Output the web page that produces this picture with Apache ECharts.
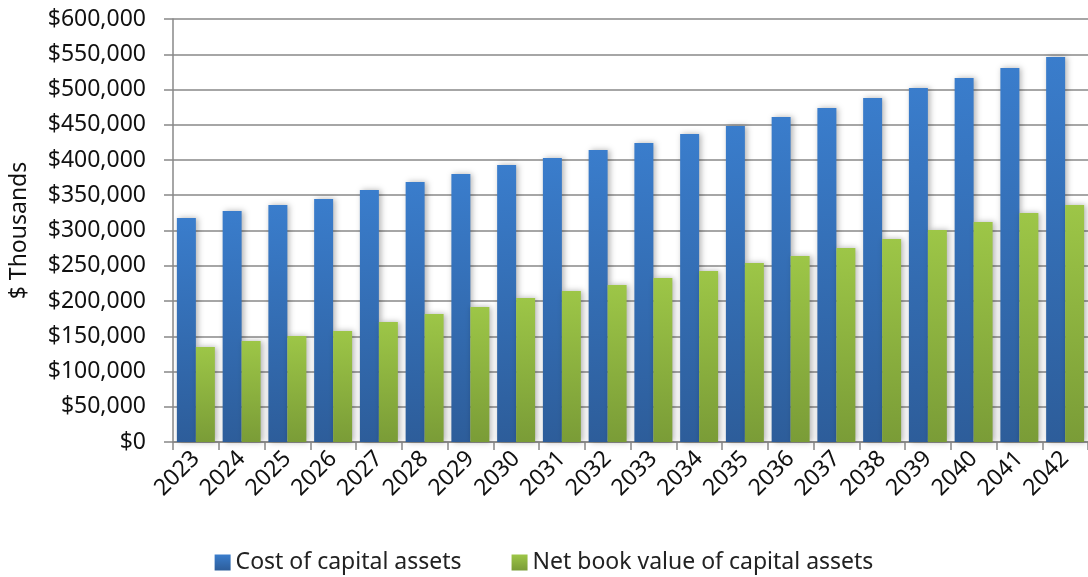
<!DOCTYPE html>
<html>
<head>
<meta charset="utf-8">
<script src="https://cdn.jsdelivr.net/npm/echarts@6/dist/echarts.min.js"></script>
<style>
  html, body { margin: 0; padding: 0; background: #fff; }
  #chart { width: 1088px; height: 577px; }
</style>
</head>
<body>
<div id="chart"></div>
<script>
const years = ['2023','2024','2025','2026','2027','2028','2029','2030','2031','2032',
               '2033','2034','2035','2036','2037','2038','2039','2040','2041','2042'];
const costValues = [317700, 327700, 336200, 344700, 357400, 368800, 380100, 392900, 402800, 414200,
                    424100, 436900, 448200, 461000, 473700, 487900, 502100, 516300, 530500, 546100];
const netBookValues = [134800, 143300, 150400, 157400, 170200, 181600, 191500, 204300, 214200, 222700,
                       232600, 242600, 253900, 263800, 275200, 287900, 300700, 312000, 324800, 336200];
const seriesNames = ['Cost of capital assets', 'Net book value of capital assets'];

const myChart = echarts.init(document.getElementById('chart'));
const font = 'Noto Sans';

function grad(top, bottom) {
    return new echarts.graphic.LinearGradient(0, 0, 0, 1, [
        { offset: 0, color: top },
        { offset: 1, color: bottom }
    ]);
}

const option = {
    animation: false,
    textStyle: { fontFamily: font },
    grid: { left: 170, right: 0, top: 19, bottom: 135 },
    legend: {
        bottom: -2,
        left: 'center',
        itemWidth: 16,
        itemHeight: 16,
        itemGap: 50,
        icon: 'rect',
        textStyle: { fontSize: 23, color: '#222', fontFamily: font },
        data: seriesNames
    },
    xAxis: {
        type: 'category',
        data: years,
        axisLine: { lineStyle: { color: '#888', width: 1.5 } },
        axisTick: { show: true, length: 8, lineStyle: { color: '#888', width: 1.5 } },
        axisLabel: { rotate: 45, fontSize: 23, color: '#111', margin: 13 }
    },
    yAxis: {
        type: 'value',
        min: 0,
        max: 600000,
        interval: 50000,
        name: '$ Thousands',
        nameLocation: 'middle',
        nameGap: 142,
        nameTextStyle: { fontSize: 23, color: '#111' },
        axisLine: { show: true, lineStyle: { color: '#888', width: 1.5 } },
        axisTick: { show: true, length: 9, lineStyle: { color: '#888', width: 1.5 } },
        splitLine: { lineStyle: { color: '#888', width: 1.5 } },
        axisLabel: {
            fontSize: 23,
            color: '#111',
            margin: 27,
            formatter: v => '$' + v.toLocaleString('en-US')
        }
    },
    series: [
        {
            name: seriesNames[0],
            type: 'bar',
            data: costValues,
            barGap: '0%',
            barCategoryGap: '17%',
            itemStyle: {
                color: grad('#3a7dcc', '#2d5d9a'),
                shadowBlur: 6,
                shadowColor: 'rgba(0,0,0,0.3)',
                shadowOffsetX: 2
            }
        },
        {
            name: seriesNames[1],
            type: 'bar',
            data: netBookValues,
            itemStyle: {
                color: grad('#9dc647', '#7a9c37'),
                shadowBlur: 6,
                shadowColor: 'rgba(0,0,0,0.3)',
                shadowOffsetX: 2
            }
        }
    ]
};
myChart.setOption(option);
</script>
</body>
</html>
